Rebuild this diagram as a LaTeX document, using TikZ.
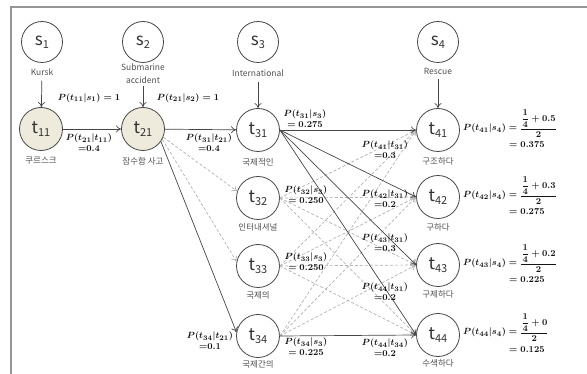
\documentclass[tikz,border=0pt]{standalone}
\usepackage{fontspec}
\usepackage{amsmath}
\setmainfont{Noto Sans CJK KR}
\usetikzlibrary{arrows.meta}

\definecolor{linec}{RGB}{70,70,70}
\definecolor{dashc}{RGB}{178,178,178}
\definecolor{seedfill}{RGB}{238,235,221}
\definecolor{framec}{RGB}{150,150,150}
\definecolor{txtc}{RGB}{80,80,80}
\definecolor{probc}{RGB}{20,20,20}

% letter with a lowered, smaller index
\newcommand\idx[2]{#1\raisebox{-3pt}{\fontsize{11}{11}\selectfont #2}}

\begin{document}
\begin{tikzpicture}[x=1pt,y=-1pt,
  circ/.style={circle,draw=linec,line width=0.8pt,minimum size=43pt,inner sep=0pt,
    text=black!80,font=\fontsize{17}{17}\selectfont},
  src/.style={circ,minimum size=41pt},
  seed/.style={circ,fill=seedfill},
  kor/.style={font=\fontsize{8.5}{10}\selectfont,text=txtc,inner sep=0pt},
  eng/.style={font=\fontsize{8.5}{12.5}\selectfont,text=txtc,align=center,inner sep=0pt},
  prob/.style={font=\fontsize{9.5}{11}\selectfont\mathversion{bold},text=probc,align=center,inner sep=0pt},
  link/.style={draw=linec,line width=0.7pt,-{To[length=5pt,width=7pt]}},
  weak/.style={draw=dashc,line width=0.7pt,dash pattern=on 3pt off 2pt,-{To[length=5pt,width=7pt]}},
]
\useasboundingbox (0,0) rectangle (587,374);
\draw[framec,line width=2pt] (11,374) -- (11,7) -- (587,7);

% source terms
\node[src] (s1) at (42,42) {\idx{s}{1}};
\node[src] (s2) at (143,42) {\idx{s}{2}};
\node[src] (s3) at (258,42) {\idx{s}{3}};
\node[src] (s4) at (438,42) {\idx{s}{4}};
\node[eng] (k1) at (42,72) {Kursk};
\node[eng] (k2) at (143,73.5) {Submarine\\accident};
\node[eng] (k3) at (258,73) {International};
\node[eng] (k4) at (438,71) {Rescue};

% target terms
\node[seed] (t11) at (41,129) {\idx{t}{11}};
\node[seed] (t21) at (143,129) {\idx{t}{21}};
\node[circ] (t31) at (258,130) {\idx{t}{31}};
\node[circ] (t32) at (258,198) {\idx{t}{32}};
\node[circ] (t33) at (258,266) {\idx{t}{33}};
\node[circ] (t34) at (258,336) {\idx{t}{34}};
\node[circ] (t41) at (438,130) {\idx{t}{41}};
\node[circ] (t42) at (438,197) {\idx{t}{42}};
\node[circ] (t43) at (438,265) {\idx{t}{43}};
\node[circ] (t44) at (438,335) {\idx{t}{44}};

\node[kor] (w11) at (41,161) {쿠르스크};
\node[kor] (w21) at (143,161) {잠수함 사고};
\node[kor] (w31) at (258,162) {국제적인};
\node[kor] (w32) at (258,227) {인터내셔널};
\node[kor] (w33) at (258,295) {국제의};
\node[kor] (w34) at (258,364) {국제간의};
\node[kor] (w41) at (438,161) {구조하다};
\node[kor] (w42) at (438,227) {구하다};
\node[kor] (w43) at (438,294) {구제하다};
\node[kor] (w44) at (438,363) {수색하다};

% connectors
\draw[link,shorten <=5pt] (k1) -- (t11);
\draw[link,shorten <=3pt] (k2) -- (t21);
\draw[link,shorten <=5pt] (k3) -- (t31);
\draw[link,shorten <=5pt] (k4) -- (t41);
\draw[link] (t11) -- (t21);
\draw[link] (t21) -- (t31);
\draw[weak] (t21.-22) -- (t32.162);
\draw[weak] (t21.-28) -- (t33.168);
\draw[link] (t21.-35) -- (t34.170);
\foreach \i in {2,3} \foreach \j in {1,2,3,4}
  \draw[weak] (t3\i.east) -- (t4\j.west);
\foreach \j in {1,2,3}
  \draw[weak] (t34.east) -- (t4\j.west);
\foreach \j in {1,2,3,4}
  \draw[link] (t31.east) -- (t4\j.west);
\draw[link] (t34.east) -- (t44.west);

% probabilities
\node[prob] (p1) at (89,98) {$P(t_{11}|s_1) = 1$};
\node[prob] (p2) at (188,98) {$P(t_{21}|s_2) = 1$};
\node[prob] (p3) at (89,143) {$P(t_{21}|t_{11})$\\${=}0.4$};
\node[prob] (p4) at (209,143) {$P(t_{31}|t_{21})$\\${=}0.4$};
\node[prob] (p5) at (210,341) {$P(t_{34}|t_{21})$\\${=}0.1$};
\node[prob] (p6) at (305,119) {$P(t_{31}|s_3)$\\$= 0.275$};
\node[prob] (p7) at (306,195) {$P(t_{32}|s_3)$\\$= 0.250$};
\node[prob] (p8) at (306,262) {$P(t_{33}|s_3)$\\$= 0.250$};
\node[prob] (p9) at (306,347) {$P(t_{34}|s_3)$\\$= 0.225$};
\node[prob] (q1) at (385,150) {$P(t_{41}|t_{31})$\\${=}0.3$};
\node[prob] (q2) at (385,199) {$P(t_{42}|t_{31})$\\${=}0.2$};
\node[prob] (q3) at (385,243) {$P(t_{43}|t_{31})$\\${=}0.3$};
\node[prob] (q4) at (385,292) {$P(t_{44}|t_{31})$\\${=}0.2$};
\node[prob] (q5) at (385,348) {$P(t_{44}|t_{34})$\\${=}0.2$};

\node[prob,anchor=base west] (r1) at (463,131) {$P(t_{41}|s_4) = \dfrac{\dfrac{1}{4} + 0.5}{2}$};
\node[prob,anchor=base west] (r2) at (463,198) {$P(t_{42}|s_4) = \dfrac{\dfrac{1}{4} + 0.3}{2}$};
\node[prob,anchor=base west] (r3) at (463,266) {$P(t_{43}|s_4) = \dfrac{\dfrac{1}{4} + 0.2}{2}$};
\node[prob,anchor=base west] (r4) at (463,335) {$P(t_{44}|s_4) = \dfrac{\dfrac{1}{4} + 0}{2}$};
\node[prob,anchor=west] (v1) at (509,145) {$= 0.375$};
\node[prob,anchor=west] (v2) at (509,212) {$= 0.275$};
\node[prob,anchor=west] (v3) at (509,280) {$= 0.225$};
\node[prob,anchor=west] (v4) at (509,350) {$= 0.125$};
\end{tikzpicture}
\end{document}
